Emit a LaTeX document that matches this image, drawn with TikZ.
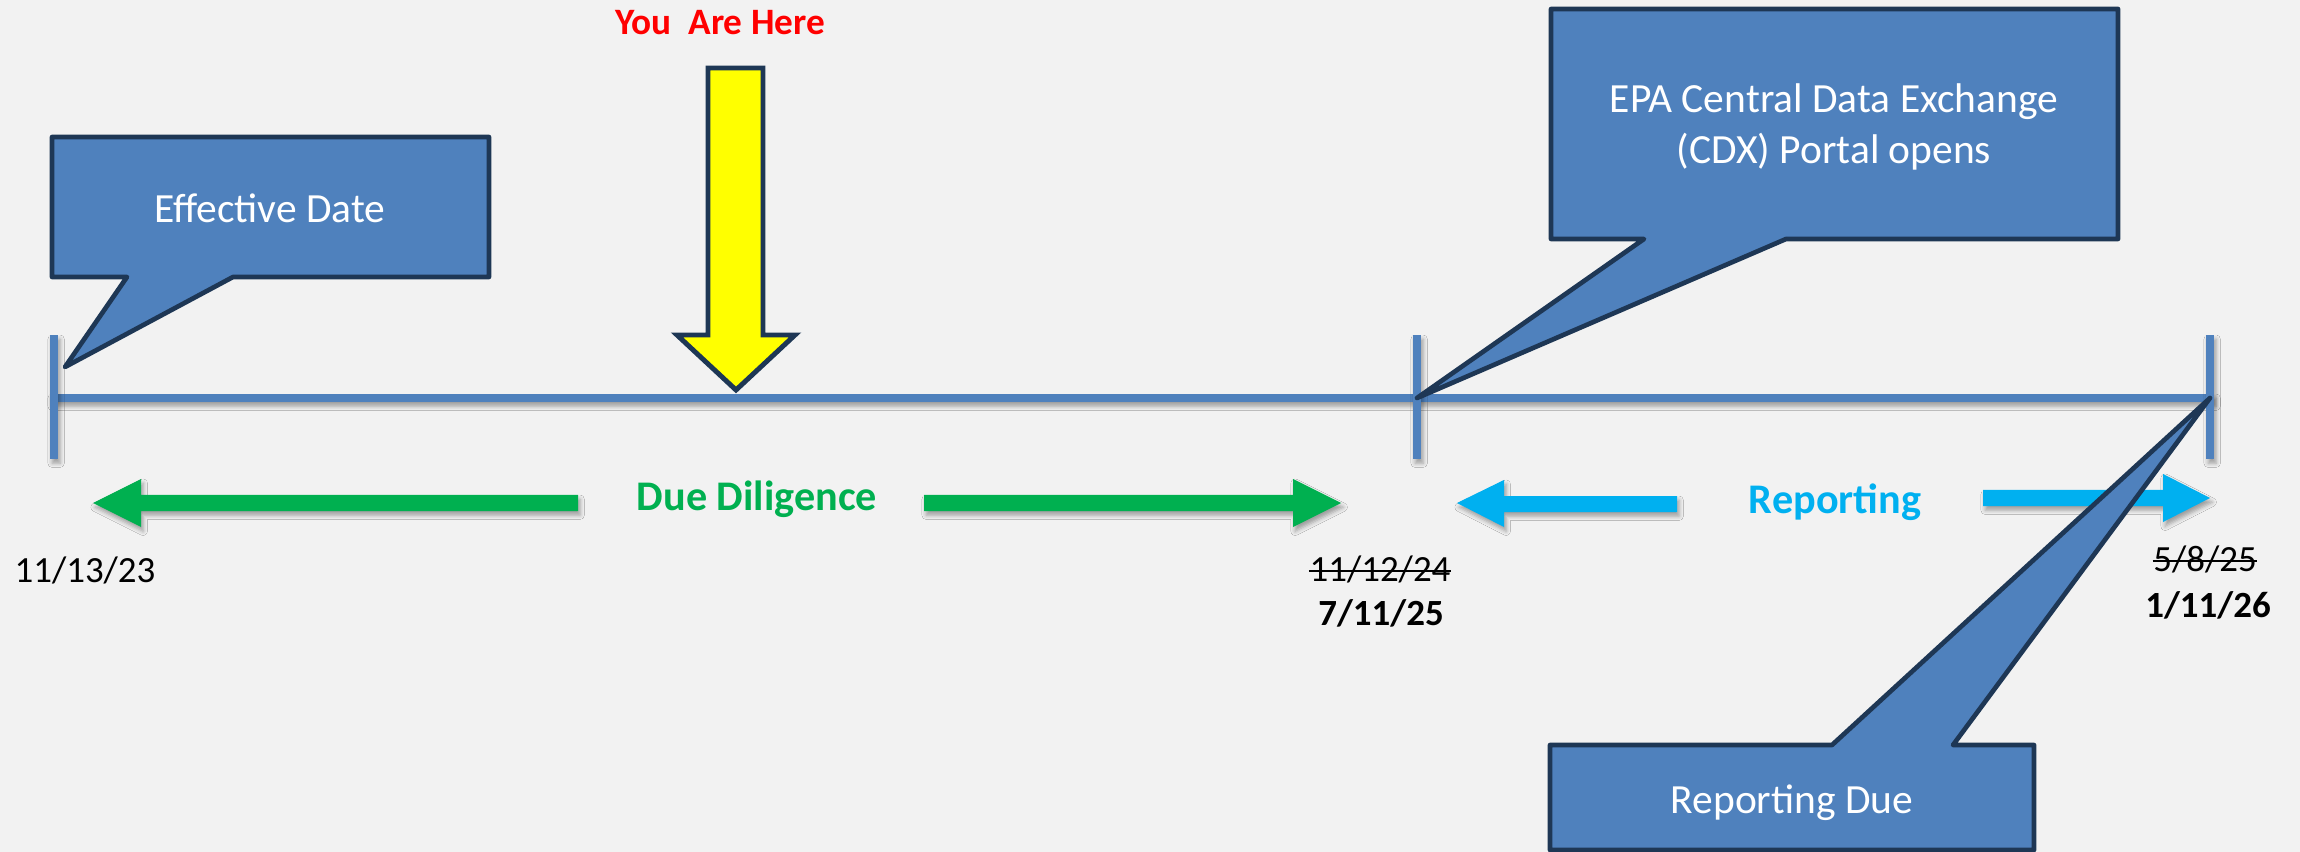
\documentclass[tikz,border=0pt]{standalone}
\usepackage{fontspec}
\setmainfont{Carlito}
\usetikzlibrary{shadows.blur}
\definecolor{bg}{HTML}{F2F2F2}
\definecolor{tl}{HTML}{4F81BD}
\definecolor{callfill}{HTML}{4F81BD}
\definecolor{callline}{RGB}{30,55,85}
\definecolor{ddgreen}{HTML}{00B050}
\definecolor{repblue}{HTML}{00B0F0}
\definecolor{hereyellow}{HTML}{FFFF00}
\definecolor{herered}{HTML}{FF0000}
\begin{document}
\begin{tikzpicture}[x=0.01cm,y=-0.01cm,
  shd/.style={blur shadow={shadow xshift=0.6pt, shadow yshift=-1.2pt, shadow blur radius=1.2pt, shadow opacity=35}},
  bar/.style={fill=tl, shd},
  greenarrow/.style={fill=ddgreen, shd},
  bluearrow/.style={fill=repblue, shd},
  callout/.style={fill=callfill, draw=callline, line width=1.33pt, line join=round},
  herearrow/.style={fill=hereyellow, draw=callline, line width=1.4pt, line join=miter},
  calltext/.style={text=white, font=\fontsize{11.8}{14.5}\selectfont, anchor=base, inner sep=0pt},
  datetext/.style={font=\fontsize{10.5}{12}\selectfont, anchor=base, inner sep=0pt},
  phasetext/.style={font=\fontsize{12}{14}\selectfont\bfseries, anchor=base, inner sep=0pt},
  strike/.style={draw=black, line width=0.6pt},
]
\useasboundingbox (0,0) rectangle (2300,852);
\fill[bg] (0,0) rectangle (2300,852);

% timeline
\coordinate (t0) at (54,398);
\coordinate (t1) at (1417,398);
\coordinate (t2) at (2210,398);
\fill[bar] (50,394) rectangle (2214,402);
\fill[bar] (50,335) rectangle (58,459);
\fill[bar] (1413,335) rectangle (1421,459);
\fill[bar] (2206,335) rectangle (2214,459);

% phase arrows
\fill[greenarrow] (93,503) -- (141,479) -- (141,495) -- (578,495) -- (578,511) -- (141,511) -- (141,527) -- cycle;
\fill[greenarrow] (924,495) -- (1293,495) -- (1293,479) -- (1341,503) -- (1293,527) -- (1293,511) -- (924,511) -- cycle;
\fill[bluearrow] (1457,503) -- (1504,480) -- (1504,496) -- (1677,496) -- (1677,512) -- (1504,512) -- (1504,527) -- cycle;
\fill[bluearrow] (1983,490) -- (2163,490) -- (2163,474) -- (2210,498) -- (2163,522) -- (2163,506) -- (1983,506) -- cycle;

\node[phasetext, text=ddgreen] (dd) at (757,511) {Due Diligence};
\node[phasetext, text=repblue] (rep) at (1835,514) {Reporting};

% you are here
\node[font=\fontsize{10.6}{12}\selectfont\bfseries, text=herered, anchor=base, inner sep=0pt] (here) at (720,35) {You\ \ Are Here};
\draw[herearrow] (708,68) -- (763,68) -- (763,335) -- (795,335) -- (736,390) -- (677,335) -- (708,335) -- cycle;

% callouts
\draw[callout] (52,137) -- (489,137) -- (489,277) -- (233,277) -- (65,367) -- (127,277) -- (52,277) -- cycle;
\node[calltext] (eff) at (270,223) {Effective Date};

\draw[callout] (1551,9) -- (2118,9) -- (2118,239) -- (1786,239) -- (t1) -- (1644,239) -- (1551,239) -- cycle;
\node[calltext] (cdxa) at (1834,113) {EPA Central Data Exchange};
\node[calltext] (cdxb) at (1834,164) {(CDX) Portal opens};

\draw[callout] (1550,745) -- (1832,745) -- (t2) -- (1953,745) -- (2034,745) -- (2034,850) -- (1550,850) -- cycle;
\node[calltext] (due) at (1792,813) {Reporting Due};

% dates
\node[datetext] (d0) at (85,582) {11/13/23};
\node[datetext] (d1old) at (1380,581) {11/12/24};
\draw[strike] ([yshift=2.8pt]d1old.base west) -- ([yshift=2.8pt]d1old.base east);
\node[datetext, font=\fontsize{10.5}{12}\selectfont\bfseries] (d1) at (1381,625) {7/11/25};
\node[datetext] (d2old) at (2205,571) {5/8/25};
\draw[strike] ([yshift=2.8pt]d2old.base west) -- ([yshift=2.8pt]d2old.base east);
\node[datetext, font=\fontsize{10.5}{12}\selectfont\bfseries] (d2) at (2208,617) {1/11/26};
\end{tikzpicture}
\end{document}
